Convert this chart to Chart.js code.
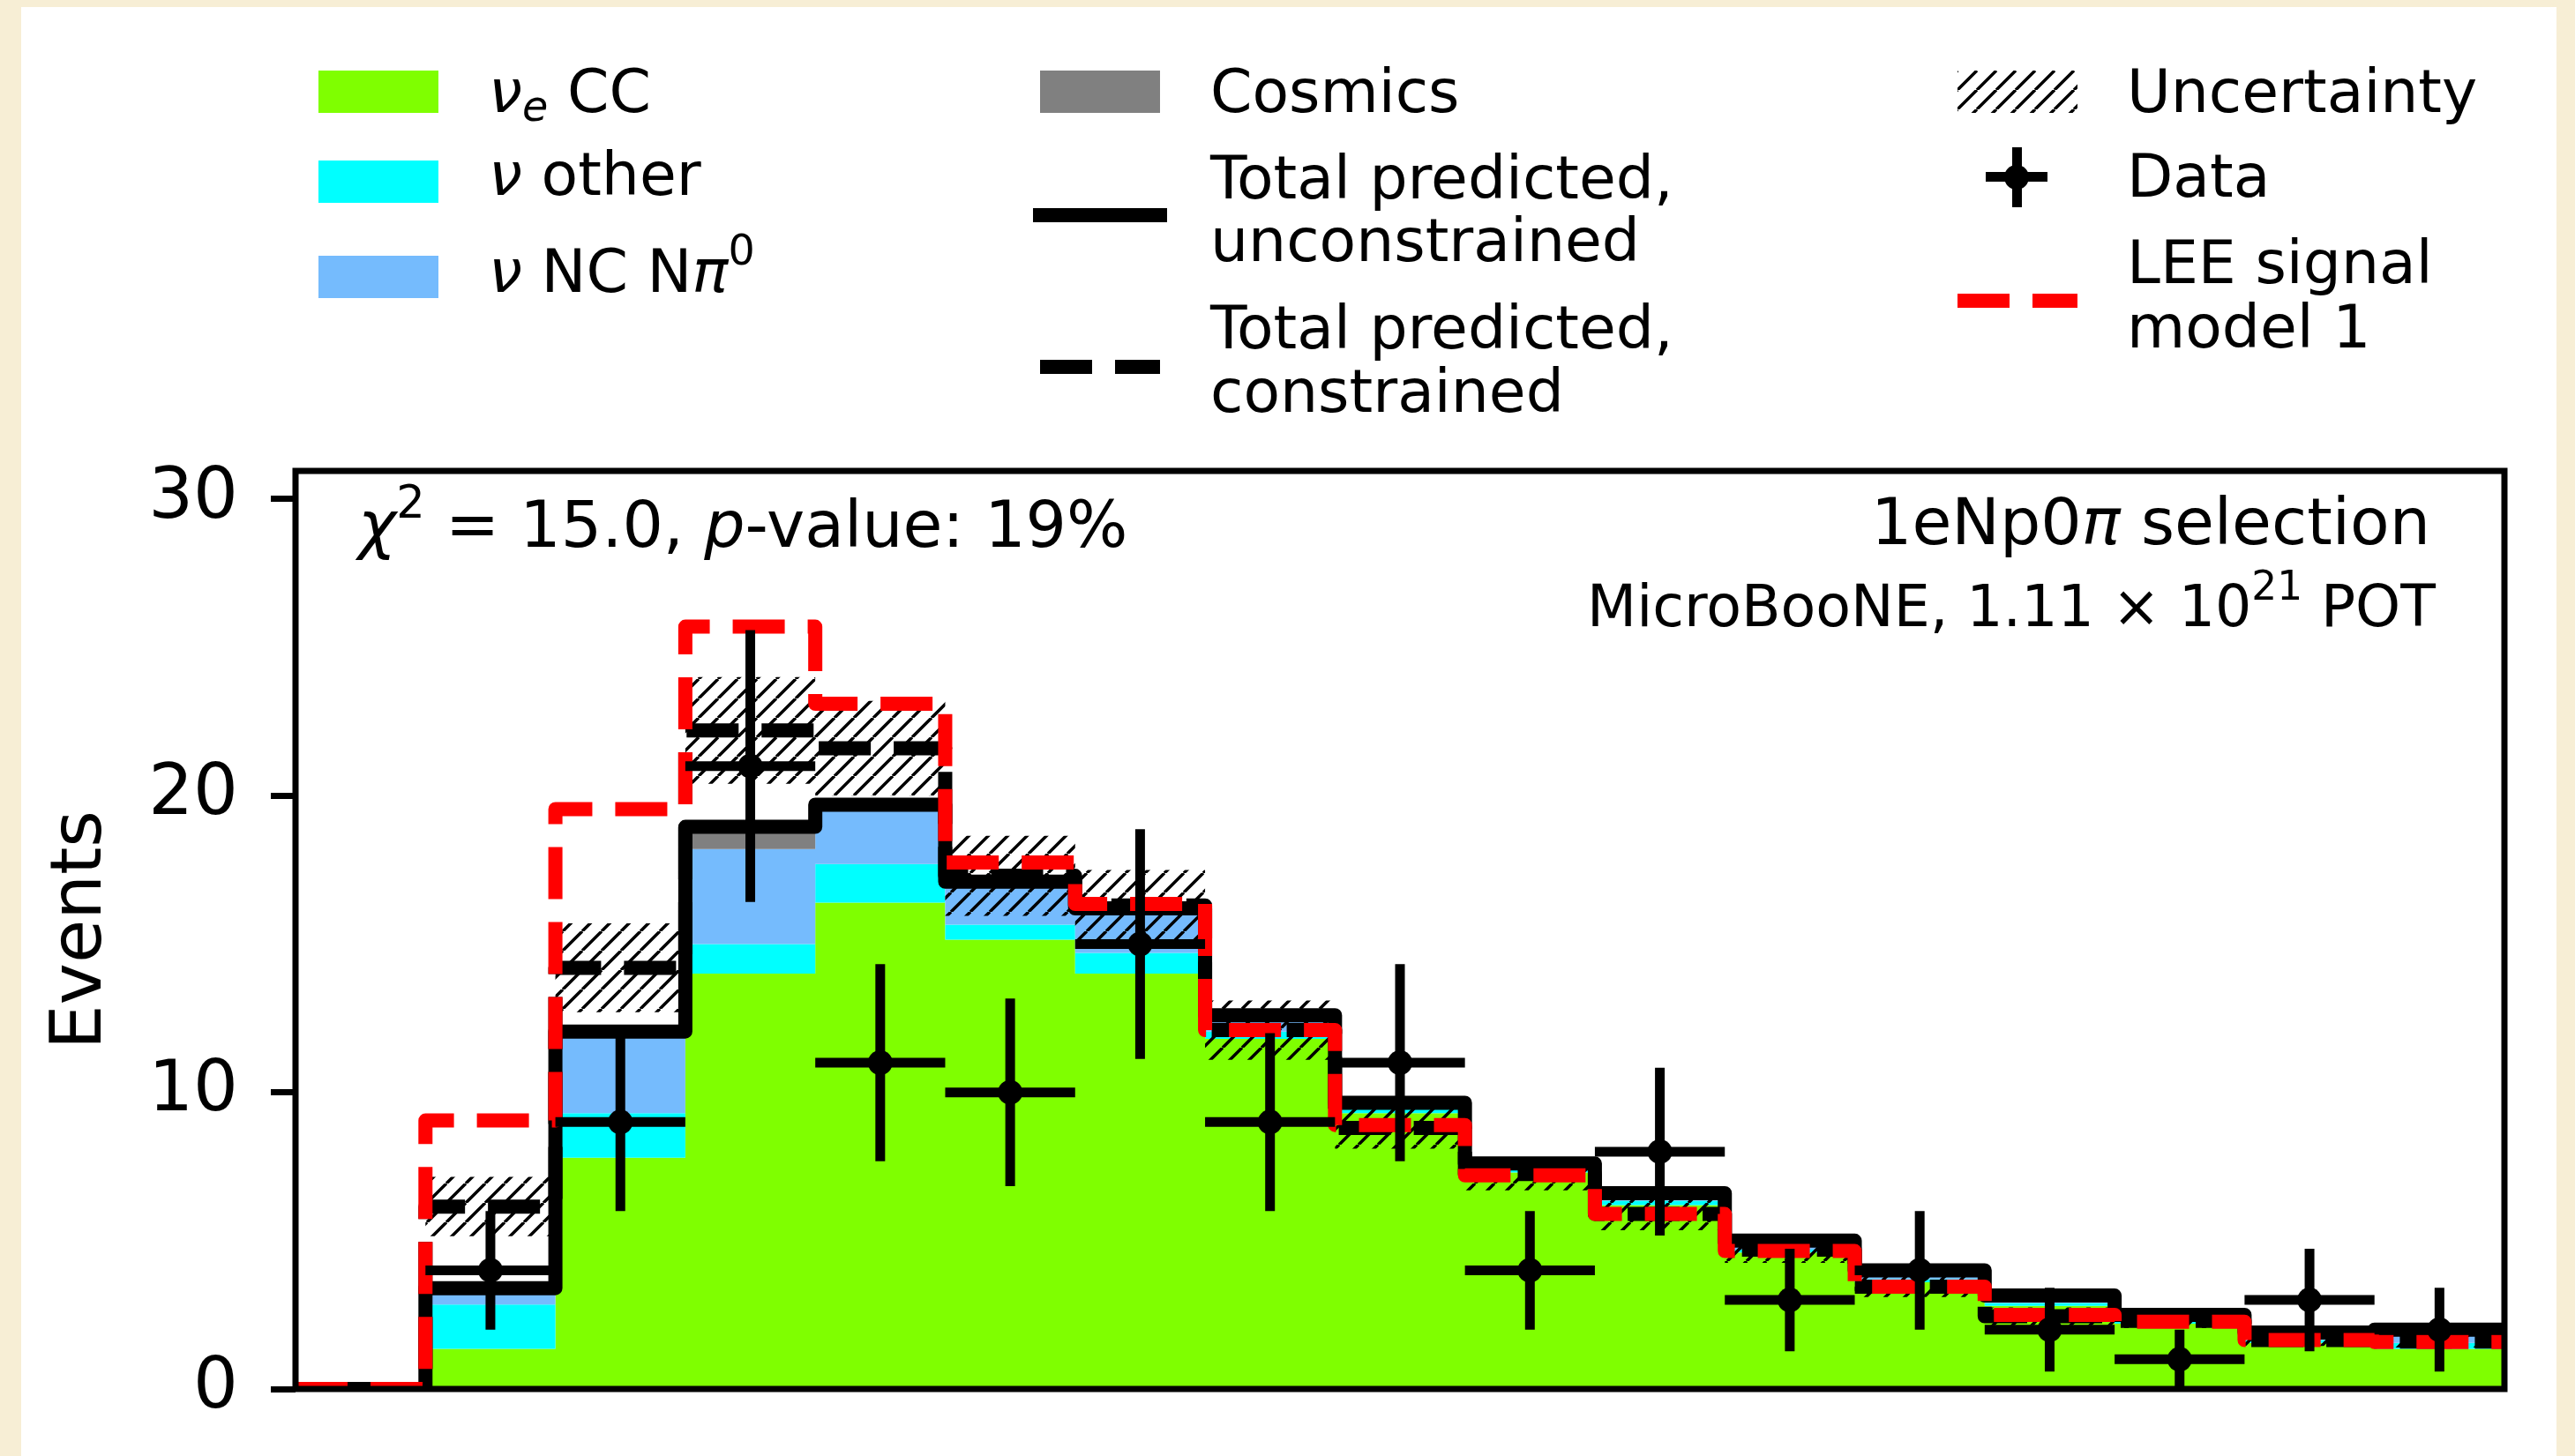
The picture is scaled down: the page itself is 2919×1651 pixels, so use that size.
<!DOCTYPE html>
<html>
<head>
<meta charset="utf-8">
<script src="https://cdn.jsdelivr.net/npm/chart.js@4.4.1/dist/chart.umd.min.js"></script>
<style>
  html, body { margin: 0; padding: 0; }
  body { width: 2919px; height: 1651px; background: #f7eed5; position: relative; overflow: hidden;
         font-family: 'DejaVu Sans', sans-serif; color: #000; }
  #sheet { position: absolute; left: 24px; top: 8px; width: 2874px; height: 1643px; background: #fff; }
  #wrap { position: absolute; left: 0; top: 0; width: 2919px; height: 1651px; }
  .t { position: absolute; white-space: nowrap; line-height: 1; }
  .t i { font-style: italic; }
  .sub { position: relative; font-size: 0.7em; top: 0.19em; }
  .sup { position: relative; font-size: 0.7em; top: -0.66em; }
  .sw { position: absolute; }
</style>
</head>
<body>
<div id="sheet"></div>
<div id="wrap"><canvas id="c" width="2919" height="1651"></canvas></div>

<!-- legend handles -->
<div class="sw" style="left:361px;top:80px;width:136px;height:48px;background:#7fff00"></div>
<div class="sw" style="left:361px;top:182px;width:136px;height:48px;background:#00ffff"></div>
<div class="sw" style="left:361px;top:290px;width:136px;height:48px;background:#75bbfd"></div>
<div class="sw" style="left:1179px;top:80px;width:136px;height:48px;background:#808080"></div>
<div class="sw" style="left:1171px;top:236px;width:152px;height:16px;background:#000"></div>
<div class="sw" style="left:1179px;top:408px;width:59px;height:16px;background:#000"></div>
<div class="sw" style="left:1264px;top:408px;width:51px;height:16px;background:#000"></div>
<div class="sw" id="hatchSw" style="left:2219px;top:80px;width:136px;height:48px;"></div>
<div class="sw" style="left:2281px;top:167px;width:11px;height:68px;background:#000"></div>
<div class="sw" style="left:2251px;top:195px;width:70px;height:11px;background:#000"></div>
<div class="sw" style="left:2272px;top:187px;width:28px;height:28px;border-radius:50%;background:#000"></div>
<div class="sw" style="left:2219px;top:333px;width:59px;height:16px;background:#ff0000"></div>
<div class="sw" style="left:2304px;top:333px;width:51px;height:16px;background:#ff0000"></div>

<script>
// ---- histogram contents, one value per energy bin ----
const bins = [0, 1, 2, 3, 4, 5, 6, 7, 8, 9, 10, 11, 12, 13, 14, 15, 16];

const nueCC   = [0, 1.35, 7.8, 14.0, 16.4, 15.15, 14.0, 11.8, 9.3, 7.3, 6.2, 4.6, 3.6, 2.8, 2.2, 1.55, 1.35];
const nuOther = [0, 1.5, 1.5, 1.0, 1.3, 0.5, 0.7, 0.25, 0.15, 0.1, 0.15, 0.1, 0.1, 0.1, 0.1, 0.1, 0.2];
const ncPi0   = [0, 0.55, 2.75, 3.2, 2.0, 1.45, 1.5, 0.55, 0.2, 0.2, 0.25, 0.3, 0.3, 0.25, 0.2, 0.25, 0.45];
const cosmics = [0, 0, 0, 0.75, 0, 0, 0, 0, 0, 0, 0, 0, 0, 0, 0, 0, 0];

const constrained = [0, 6.15, 14.2, 22.2, 21.6, 17.3, 16.3, 12.1, 8.8, 7.25, 5.9, 4.7, 3.45, 2.45, 2.3, 1.65, 1.6];
const uncertainty = [0, 1.0, 1.5, 1.8, 1.6, 1.35, 1.2, 1.0, 0.7, 0.55, 0.55, 0.45, 0.35, 0.3, 0.25, 0.2, 0.2];
const leeModel1   = [0, 9.05, 19.55, 25.7, 23.1, 17.75, 16.35, 12.1, 8.9, 7.2, 5.9, 4.65, 3.45, 2.5, 2.27, 1.65, 1.58];

const dataEvents = [null, 4, 9, 21, 11, 10, 15, 9, 11, 4, 8, 3, 4, 2, 1, 3, 2];
const dataErr    = [0, 2, 3, 4.58, 3.32, 3.16, 3.87, 3, 3.32, 2, 2.83, 1.73, 2, 1.41, 1, 1.73, 1.41];

const yTicks = [0, 10, 20, 30];

// ---- helpers ----
function stepPoints(vals) {
  const pts = bins.map(i => ({ x: i, y: vals[i] }));
  pts.push({ x: bins.length, y: vals[vals.length - 1] });
  return pts;
}
function cumulate(...arrs) {
  return bins.map(i => arrs.reduce((s, a) => s + a[i], 0));
}
function hatchTile(size, width) {
  const c = document.createElement('canvas');
  c.width = c.height = size;
  const g = c.getContext('2d');
  g.strokeStyle = '#000';
  g.lineWidth = width;
  g.beginPath();
  for (let k = -1; k <= 1; k++) { g.moveTo(k * size, size); g.lineTo(k * size + size, 0); }
  g.stroke();
  return c;
}
function label(html, x, base, size, align) {
  const d = document.createElement('div');
  d.className = 't';
  d.style.fontSize = size + 'px';
  d.style.top = (base - 0.846 * size) + 'px';
  if (align === 'right') d.style.right = (2919 - x) + 'px'; else d.style.left = x + 'px';
  d.innerHTML = html;
  document.body.appendChild(d);
}

const top1 = cumulate(nueCC);
const top2 = cumulate(nueCC, nuOther);
const top3 = cumulate(nueCC, nuOther, ncPi0);
const top4 = cumulate(nueCC, nuOther, ncPi0, cosmics);
const uncLo = bins.map(i => constrained[i] - uncertainty[i]);
const uncHi = bins.map(i => constrained[i] + uncertainty[i]);

const xBars = [], yBars = [], markers = [];
bins.forEach(i => {
  const d = dataEvents[i];
  if (d === null) return;
  xBars.push({ x: i, y: d }, { x: i + 1, y: d }, { x: i + 1, y: null });
  yBars.push({ x: i + 0.5, y: d - dataErr[i] }, { x: i + 0.5, y: d + dataErr[i] }, { x: i + 0.5, y: null });
  markers.push({ x: i + 0.5, y: d });
});

const tile = hatchTile(22, 3.5);
const canvas = document.getElementById('c');
const ctx = canvas.getContext('2d');
const hatch = ctx.createPattern(tile, 'repeat');
document.getElementById('hatchSw').style.backgroundImage = 'url(' + tile.toDataURL() + ')';

Chart.defaults.font.family = "'DejaVu Sans', sans-serif";
Chart.defaults.color = '#000';

const LW = 16;
const DASH = [59, 26];

const stackSet = (data, color, fill, order) => ({
  data: stepPoints(data), stepped: 'before', fill, backgroundColor: color,
  borderWidth: 0, pointRadius: 0, order, clip: 0
});

const frame = {
  id: 'frame',
  afterDatasetsDraw(chart) {
    const { ctx: g, chartArea: a } = chart;
    g.save();
    g.lineWidth = 7;
    g.strokeStyle = '#000';
    g.strokeRect(a.left, a.top, a.right - a.left, a.bottom - a.top);
    g.restore();
  }
};

new Chart(ctx, {
  type: 'line',
  data: {
    datasets: [
      stackSet(top1, '#7fff00', 'origin', 20),
      stackSet(top2, '#00ffff', '-1', 19),
      stackSet(top3, '#75bbfd', '-1', 18),
      stackSet(top4, '#808080', '-1', 17),
      stackSet(uncLo, 'rgba(0,0,0,0)', false, 16),
      stackSet(uncHi, hatch, '-1', 15),
      { data: stepPoints(top4), stepped: 'before', fill: false, borderColor: '#000', borderWidth: LW,
        borderJoinStyle: 'round', pointRadius: 0, order: 5, clip: 0 },
      { data: stepPoints(constrained), stepped: 'before', fill: false, borderColor: '#000', borderWidth: LW,
        borderDash: DASH, borderJoinStyle: 'round', pointRadius: 0, order: 4, clip: 0 },
      { data: stepPoints(leeModel1), stepped: 'before', fill: false, borderColor: '#ff0000', borderWidth: LW,
        borderDash: DASH, borderJoinStyle: 'round', pointRadius: 0, order: 3, clip: 0 },
      { data: xBars, fill: false, borderColor: '#000', borderWidth: 11, pointRadius: 0, spanGaps: false, order: 2, clip: 0 },
      { data: yBars, fill: false, borderColor: '#000', borderWidth: 11, pointRadius: 0, spanGaps: false, order: 1, clip: 0 },
      { data: markers, showLine: false, pointRadius: 14, pointStyle: 'circle', pointBackgroundColor: '#000',
        pointBorderWidth: 0, order: 0, clip: 0 }
    ]
  },
  options: {
    responsive: false,
    animation: false,
    devicePixelRatio: 1,
    events: [],
    layout: { padding: { top: 534, right: 80, bottom: 76, left: 0 } },
    plugins: {
      legend: { display: false },
      tooltip: { enabled: false },
      filler: { drawTime: 'beforeDatasetDraw' }
    },
    scales: {
      x: { type: 'linear', min: 0, max: bins.length, display: false },
      y: {
        type: 'linear', min: 0, max: 30.95,
        afterBuildTicks: s => { s.ticks = yTicks.map(v => ({ value: v })); },
        afterFit: s => { s.width = 335; s.paddingTop = 0; s.paddingBottom = 0; },
        ticks: { font: { size: 80 }, color: '#000', padding: 37, callback: v => String(v) },
        grid: { display: true, drawOnChartArea: false, drawTicks: true, tickLength: 28,
                tickWidth: 7, tickColor: '#000' },
        border: { display: false },
        title: { display: true, text: 'Events', font: { size: 80 }, color: '#000',
                 padding: { top: 45, bottom: 0 } }
      }
    }
  },
  plugins: [frame]
});

// legend labels
label('<i>ν</i><span class="sub"><i>e</i></span> CC', 554, 128, 68);
label('<i>ν</i> other', 554, 222, 68);
label('<i>ν</i> NC N<i>π</i><span class="sup">0</span>', 554, 332, 68);
label('Cosmics', 1372, 128, 68);
label('Total predicted,', 1372, 225.5, 68);
label('unconstrained', 1372, 297, 68);
label('Total predicted,', 1372, 396, 68);
label('constrained', 1372, 467.5, 68);
label('Uncertainty', 2411, 128, 68);
label('Data', 2411, 224, 68);
label('LEE signal', 2411, 321.7, 68);
label('model 1', 2411, 394.7, 68);

// plot annotations
label('<i>χ</i><span class="sup">2</span> = 15.0, <i>p</i>-value: 19%', 406, 620, 73);
label('1eNp0<i>π</i> selection', 2755, 617, 73, 'right');
label('MicroBooNE, 1.11 × 10<span class="sup">21</span> POT', 2761, 710, 65, 'right');
</script>
</body>
</html>
